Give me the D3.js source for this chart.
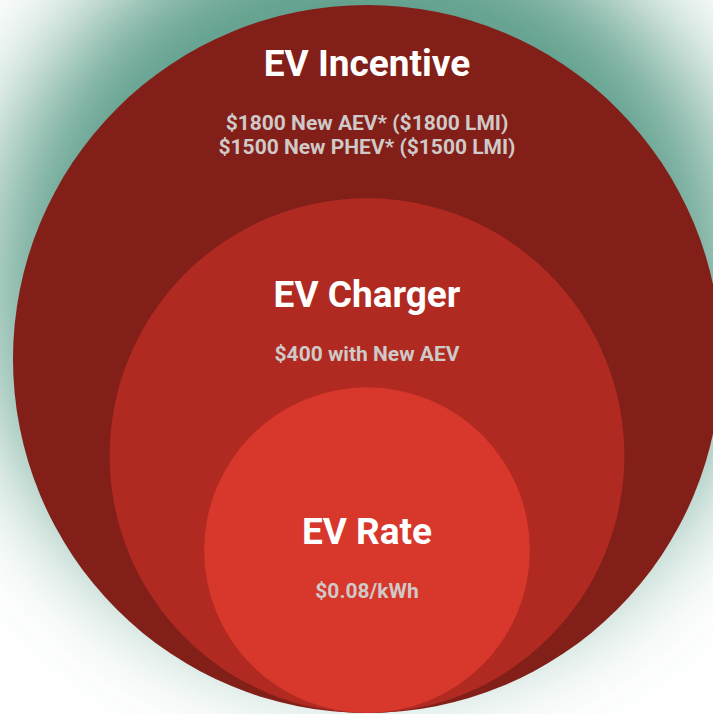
<!DOCTYPE html>
<html>
<head>
<meta charset="utf-8">
<script src="https://cdn.jsdelivr.net/npm/d3@7"></script>
<style>
  html, body { margin: 0; padding: 0; background: #fff; }
  svg { display: block; }
</style>
</head>
<body>
<div id="chart"></div>
<script>
// tiers, outermost first
var tiers = ["EV Incentive", "EV Charger", "EV Rate"];
var details = [
  ["$1800 New AEV* ($1800 LMI)", "$1500 New PHEV* ($1500 LMI)"],
  ["$400 with New AEV"],
  ["$0.08/kWh"]
];
// relative size of each tier circle (outer = 1)
var scope = [1, 0.727, 0.46];
var colors = ["#821f19", "#b02a22", "#d8372b"];

var width = 713, height = 714;
var cx = 367, baseY = 713;      // circles all touch at the bottom
var titleOffset = [71, 109, 157]; // title baseline below circle top

var r = d3.scaleLinear()
    .domain([0, 1])
    .range([0, 354]);

var svg = d3.select("#chart").append("svg")
    .attr("width", width)
    .attr("height", height);

var defs = svg.append("defs");
defs.append("filter")
    .attr("id", "glow")
    .attr("x", "-50%").attr("y", "-50%")
    .attr("width", "200%").attr("height", "200%")
  .append("feGaussianBlur")
    .attr("stdDeviation", 55);

svg.append("rect")
    .attr("width", width)
    .attr("height", height)
    .attr("fill", "#ffffff");

// teal halo behind the big circle, sitting a bit higher
svg.append("circle")
    .attr("cx", cx)
    .attr("cy", baseY - r(1) - 75)
    .attr("r", r(1) + 25)
    .attr("fill", "#5e9f8b")
    .attr("filter", "url(#glow)");

var g = svg.selectAll("g.tier")
    .data(tiers)
    .enter().append("g")
    .attr("class", "tier");

g.append("circle")
    .attr("cx", cx)
    .attr("cy", function(d, i) { return baseY - r(scope[i]); })
    .attr("r", function(d, i) { return r(scope[i]); })
    .attr("fill", function(d, i) { return colors[i]; });

g.append("text")
    .attr("x", cx)
    .attr("y", function(d, i) { return baseY - 2 * r(scope[i]) + titleOffset[i]; })
    .attr("text-anchor", "middle")
    .style("font-family", "Roboto, sans-serif")
    .style("font-weight", 700)
    .style("font-size", "37px")
    .attr("fill", "#ffffff")
    .text(function(d) { return d; });

g.each(function(d, i) {
  var top = baseY - 2 * r(scope[i]) + titleOffset[i];
  d3.select(this).selectAll("text.detail")
      .data(details[i])
      .enter().append("text")
      .attr("class", "detail")
      .attr("x", cx)
      .attr("y", function(t, j) { return top + 54 + j * 24; })
      .attr("text-anchor", "middle")
      .style("font-family", "Roboto, sans-serif")
      .style("font-weight", 700)
      .style("font-size", "21px")
      .attr("fill", "#cfc9c8")
      .text(function(t) { return t; });
});
</script>
</body>
</html>
